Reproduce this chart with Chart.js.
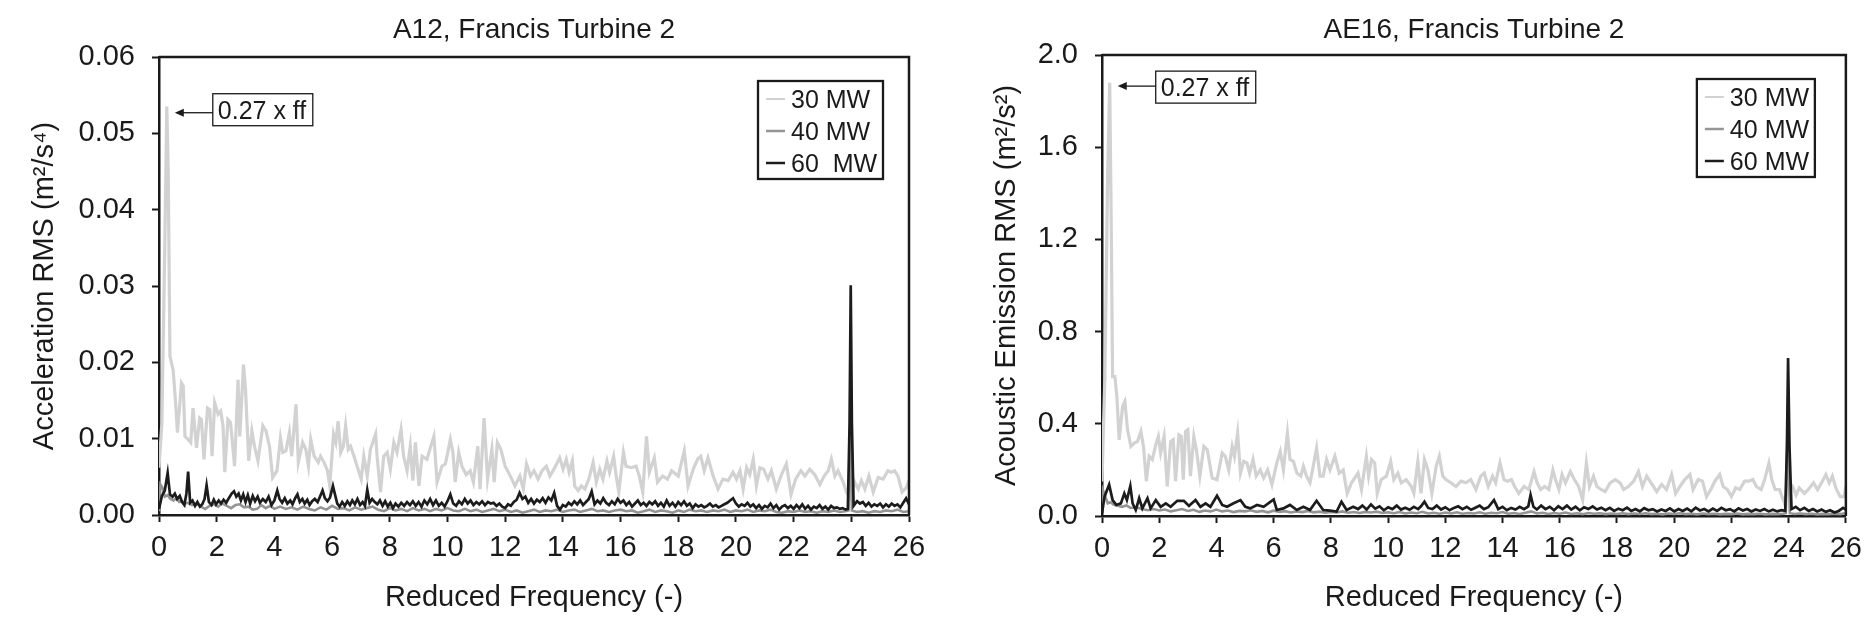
<!DOCTYPE html>
<html>
<head>
<meta charset="utf-8">
<script src="https://cdn.jsdelivr.net/npm/chart.js@4.4.1/dist/chart.umd.min.js"></script>
<style>
  html, body { margin: 0; padding: 0; background: #fff; }
  #wrap { position: relative; width: 1871px; height: 622px; }
  canvas { position: absolute; top: 0; }
</style>
</head>
<body>
<div id="wrap">
  <canvas id="chartA12" width="935" height="622" style="left:0"></canvas>
  <canvas id="chartAE16" width="936" height="622" style="left:935px"></canvas>
</div>
<script>
// [reduced frequency, RMS]

// A12 accelerometer (m2/s4)
const a12_30MW = [[0,0.0062],[0.1,0.012],[0.2,0.035],[0.27,0.0535],[0.32,0.045],[0.38,0.0208],[0.49,0.019],[0.57,0.015],[0.64,0.0108],[0.78,0.0173],[0.84,0.0169],[0.9,0.0103],[1.01,0.0099],[1.1,0.0095],[1.18,0.014],[1.3,0.0088],[1.41,0.0127],[1.47,0.0125],[1.56,0.0073],[1.68,0.014],[1.76,0.0138],[1.84,0.0077],[1.93,0.0147],[2.05,0.0132],[2.14,0.0136],[2.22,0.0117],[2.28,0.0056],[2.39,0.0125],[2.48,0.0121],[2.62,0.0064],[2.74,0.0177],[2.8,0.0103],[2.93,0.0197],[3.0,0.0164],[3.11,0.0071],[3.22,0.011],[3.31,0.009],[3.43,0.0071],[3.6,0.0117],[3.71,0.011],[3.83,0.009],[3.94,0.0049],[4.09,0.0058],[4.21,0.0101],[4.29,0.0082],[4.4,0.0084],[4.52,0.0108],[4.6,0.0077],[4.75,0.0145],[4.83,0.0069],[4.98,0.0095],[5.09,0.0086],[5.18,0.0064],[5.26,0.0099],[5.38,0.0077],[5.52,0.0069],[5.6,0.0077],[5.72,0.0069],[5.84,0.0058],[5.92,0.0038],[6.05,0.0106],[6.13,0.0095],[6.21,0.0123],[6.3,0.0082],[6.39,0.009],[6.47,0.0117],[6.56,0.0086],[6.64,0.009],[6.76,0.0077],[6.9,0.006],[7.01,0.0047],[7.1,0.0077],[7.22,0.0051],[7.33,0.0086],[7.51,0.0106],[7.56,0.0077],[7.68,0.003],[7.79,0.0077],[7.91,0.0082],[8.02,0.006],[8.14,0.0095],[8.25,0.0082],[8.39,0.0112],[8.48,0.0077],[8.6,0.0058],[8.71,0.009],[8.8,0.0045],[8.89,0.0095],[9.01,0.0038],[9.12,0.0077],[9.29,0.0073],[9.39,0.0086],[9.53,0.0103],[9.64,0.0043],[9.81,0.0064],[9.93,0.0067],[10.1,0.0099],[10.19,0.0082],[10.27,0.0043],[10.39,0.0082],[10.5,0.0064],[10.65,0.0053],[10.79,0.0058],[10.9,0.0043],[11.05,0.009],[11.13,0.0034],[11.27,0.0127],[11.39,0.0047],[11.54,0.0086],[11.62,0.0043],[11.73,0.0095],[11.85,0.0086],[12.0,0.0064],[12.11,0.0056],[12.23,0.0047],[12.34,0.0038],[12.51,0.0051],[12.63,0.0034],[12.74,0.0067],[12.88,0.0051],[13.0,0.0058],[13.14,0.0047],[13.28,0.0058],[13.43,0.0064],[13.55,0.0051],[13.72,0.0062],[13.89,0.0075],[14.01,0.006],[14.12,0.0073],[14.22,0.0056],[14.33,0.0071],[14.41,0.0038],[14.53,0.0032],[14.64,0.0038],[14.76,0.0034],[14.9,0.0047],[15.05,0.0069],[15.16,0.0043],[15.28,0.006],[15.39,0.0047],[15.53,0.0071],[15.62,0.0056],[15.76,0.0077],[15.85,0.0051],[15.94,0.003],[16.1,0.0082],[16.19,0.0064],[16.36,0.0062],[16.54,0.0064],[16.65,0.0051],[16.77,0.003],[16.9,0.0103],[17.0,0.0056],[17.17,0.0075],[17.28,0.0043],[17.46,0.0051],[17.63,0.0047],[17.77,0.0058],[18.0,0.0051],[18.21,0.0084],[18.34,0.0038],[18.52,0.006],[18.67,0.0073],[18.78,0.0077],[18.9,0.0058],[19.03,0.0075],[19.21,0.0051],[19.38,0.0034],[19.55,0.0047],[19.73,0.0045],[19.9,0.0056],[20.02,0.0047],[20.14,0.0058],[20.25,0.0034],[20.37,0.0062],[20.48,0.0053],[20.6,0.0073],[20.71,0.0038],[20.83,0.0062],[20.96,0.006],[21.11,0.0047],[21.23,0.0058],[21.4,0.0034],[21.58,0.0053],[21.75,0.0067],[21.91,0.0027],[22.07,0.0047],[22.25,0.0058],[22.39,0.0051],[22.56,0.006],[22.73,0.0053],[22.91,0.004],[23.06,0.0051],[23.2,0.0058],[23.31,0.0073],[23.43,0.0051],[23.54,0.0058],[23.72,0.0043],[23.83,0.003],[23.95,0.0023],[24.12,0.0043],[24.24,0.0034],[24.35,0.0045],[24.47,0.0034],[24.61,0.0051],[24.76,0.003],[24.93,0.0049],[25.1,0.0047],[25.27,0.0058],[25.39,0.0056],[25.5,0.0058],[25.62,0.0051],[25.76,0.003],[25.91,0.0036],[26.0,0.0045]];

const a12_40MW = [[0,0.0005],[0.05,0.004],[0.12,0.0036],[0.2,0.0024],[0.3,0.0026],[0.4,0.0021],[0.5,0.0019],[0.6,0.0022],[0.7,0.0017],[0.8,0.0018],[0.9,0.0015],[1.0,0.0016],[1.15,0.0013],[1.3,0.0015],[1.45,0.0011],[1.6,0.0008],[1.75,0.0012],[1.9,0.0014],[2.05,0.0011],[2.2,0.0015],[2.35,0.0012],[2.5,0.0009],[2.65,0.0013],[2.8,0.0014],[2.95,0.001],[3.1,0.0011],[3.25,0.0007],[3.4,0.0008],[3.55,0.0013],[3.7,0.0009],[3.85,0.0012],[4.0,0.0008],[4.2,0.0011],[4.4,0.0008],[4.6,0.001],[4.8,0.0007],[5.0,0.0011],[5.2,0.0008],[5.4,0.0006],[5.6,0.001],[5.8,0.0007],[6.0,0.0012],[6.2,0.0008],[6.4,0.0009],[6.6,0.0006],[6.8,0.001],[7.0,0.0007],[7.2,0.0009],[7.4,0.0011],[7.6,0.0007],[7.8,0.0005],[8.0,0.0009],[8.2,0.0006],[8.4,0.0008],[8.6,0.0005],[8.8,0.0009],[9.0,0.0006],[9.2,0.0008],[9.4,0.0005],[9.6,0.0008],[9.8,0.0006],[10.0,0.0009],[10.2,0.0006],[10.4,0.0005],[10.6,0.0008],[10.8,0.0005],[11.0,0.0007],[11.2,0.0004],[11.4,0.0006],[11.6,0.0008],[11.8,0.0005],[12.0,0.0007],[12.2,0.0004],[12.4,0.0006],[12.6,0.0003],[12.8,0.0005],[13.0,0.0007],[13.2,0.0004],[13.4,0.0006],[13.6,0.0005],[13.8,0.0007],[14.0,0.0004],[14.2,0.0006],[14.4,0.0007],[14.6,0.0004],[14.8,0.0006],[15.0,0.0008],[15.2,0.0005],[15.4,0.0006],[15.6,0.0004],[15.8,0.0006],[16.0,0.0007],[16.2,0.0005],[16.4,0.0006],[16.6,0.0003],[16.8,0.0005],[17.0,0.0007],[17.2,0.0004],[17.4,0.0006],[17.6,0.0005],[17.8,0.0003],[18.0,0.0006],[18.2,0.0004],[18.4,0.0007],[18.6,0.0005],[18.8,0.0006],[19.0,0.0004],[19.2,0.0006],[19.4,0.0005],[19.6,0.0007],[19.8,0.0004],[20.0,0.0006],[20.2,0.0005],[20.4,0.0007],[20.6,0.0004],[20.8,0.0006],[21.0,0.0005],[21.2,0.0007],[21.4,0.0004],[21.6,0.0003],[21.8,0.0005],[22.0,0.0004],[22.2,0.0006],[22.4,0.0004],[22.6,0.0005],[22.8,0.0003],[23.0,0.0005],[23.2,0.0004],[23.4,0.0006],[23.6,0.0004],[23.8,0.0005],[23.9,0.0006],[23.96,0.012],[24.02,0.0006],[24.2,0.0004],[24.4,0.0005],[24.6,0.0003],[24.8,0.0005],[25.0,0.0004],[25.2,0.0006],[25.4,0.0005],[25.6,0.0007],[25.8,0.0004],[26.0,0.0005]];

const a12_60MW = [[0,0.0008],[0.1,0.0025],[0.2,0.0032],[0.3,0.0055],[0.38,0.0027],[0.47,0.0024],[0.55,0.0028],[0.63,0.0021],[0.72,0.0025],[0.8,0.0017],[0.88,0.0013],[0.95,0.0028],[1.01,0.0057],[1.08,0.0016],[1.16,0.0019],[1.25,0.0012],[1.33,0.0017],[1.42,0.0011],[1.5,0.0014],[1.58,0.0021],[1.65,0.0039],[1.73,0.0017],[1.82,0.0013],[1.9,0.002],[1.98,0.0014],[2.07,0.0019],[2.15,0.0015],[2.24,0.002],[2.33,0.0016],[2.42,0.0022],[2.52,0.0028],[2.6,0.0031],[2.68,0.0024],[2.76,0.0028],[2.84,0.0019],[2.92,0.0027],[3.0,0.0017],[3.08,0.0026],[3.16,0.0015],[3.25,0.0025],[3.33,0.0018],[3.42,0.0024],[3.5,0.0016],[3.6,0.0021],[3.7,0.0017],[3.8,0.0024],[3.9,0.0013],[4.0,0.0019],[4.1,0.0032],[4.18,0.0021],[4.27,0.0016],[4.36,0.0022],[4.45,0.0015],[4.55,0.0019],[4.63,0.0014],[4.72,0.0022],[4.8,0.0027],[4.88,0.0017],[4.97,0.0021],[5.05,0.0015],[5.14,0.002],[5.22,0.0013],[5.31,0.0018],[5.4,0.0021],[5.5,0.0017],[5.58,0.0024],[5.67,0.0032],[5.75,0.0022],[5.84,0.0018],[5.93,0.0023],[6.03,0.0038],[6.1,0.0027],[6.18,0.0015],[6.26,0.0011],[6.35,0.0017],[6.44,0.0012],[6.53,0.0018],[6.62,0.0013],[6.7,0.0019],[6.79,0.0014],[6.88,0.0021],[6.97,0.0013],[7.06,0.0017],[7.14,0.0012],[7.22,0.0033],[7.3,0.0016],[7.39,0.0021],[7.48,0.0017],[7.57,0.0014],[7.66,0.0019],[7.75,0.0012],[7.84,0.0018],[7.93,0.0011],[8.02,0.0016],[8.11,0.0009],[8.2,0.0015],[8.3,0.0011],[8.4,0.0016],[8.5,0.0012],[8.6,0.0017],[8.7,0.0013],[8.8,0.0018],[8.9,0.0012],[9.0,0.0017],[9.1,0.0011],[9.2,0.0019],[9.3,0.0014],[9.4,0.0021],[9.5,0.0013],[9.6,0.0019],[9.7,0.0012],[9.8,0.0016],[9.9,0.0011],[10.0,0.0018],[10.1,0.0027],[10.2,0.0015],[10.3,0.0012],[10.4,0.0018],[10.5,0.0014],[10.6,0.0021],[10.7,0.0015],[10.8,0.0019],[10.9,0.0013],[11.0,0.0017],[11.1,0.0014],[11.2,0.0018],[11.3,0.0013],[11.4,0.0017],[11.5,0.0015],[11.6,0.0016],[11.7,0.0012],[11.8,0.0015],[11.9,0.0011],[12.0,0.0009],[12.1,0.0014],[12.2,0.0012],[12.3,0.0017],[12.4,0.002],[12.5,0.0029],[12.6,0.0021],[12.7,0.0024],[12.8,0.0016],[12.9,0.0021],[13.0,0.0015],[13.1,0.002],[13.2,0.0017],[13.3,0.0022],[13.4,0.0016],[13.5,0.0023],[13.6,0.0019],[13.7,0.0029],[13.8,0.0012],[13.9,0.0007],[14.0,0.0013],[14.1,0.0011],[14.2,0.0016],[14.3,0.0013],[14.4,0.0018],[14.5,0.0014],[14.6,0.0019],[14.7,0.0013],[14.8,0.0017],[14.9,0.0021],[15.0,0.0031],[15.1,0.0014],[15.2,0.0019],[15.3,0.0015],[15.4,0.0022],[15.5,0.0016],[15.6,0.0013],[15.7,0.0018],[15.8,0.0014],[15.9,0.0021],[16.0,0.0016],[16.1,0.0019],[16.2,0.0013],[16.3,0.0017],[16.4,0.0011],[16.5,0.0015],[16.6,0.0019],[16.7,0.0013],[16.8,0.0016],[16.9,0.0012],[17.0,0.0017],[17.1,0.0014],[17.2,0.0018],[17.3,0.0012],[17.4,0.0016],[17.5,0.0011],[17.6,0.0019],[17.7,0.0012],[17.8,0.0016],[17.9,0.0011],[18.0,0.0017],[18.1,0.0013],[18.2,0.0018],[18.3,0.0012],[18.4,0.0015],[18.5,0.0009],[18.6,0.0014],[18.7,0.0011],[18.8,0.0013],[18.9,0.001],[19.0,0.0012],[19.1,0.0015],[19.2,0.0011],[19.3,0.0013],[19.4,0.001],[19.5,0.0012],[19.6,0.0014],[19.7,0.0016],[19.8,0.0019],[19.9,0.0022],[20.0,0.0015],[20.1,0.0011],[20.2,0.0014],[20.3,0.0012],[20.4,0.0016],[20.5,0.0011],[20.6,0.0014],[20.7,0.0009],[20.8,0.0013],[20.9,0.0008],[21.0,0.0012],[21.1,0.001],[21.2,0.0015],[21.3,0.0009],[21.4,0.0013],[21.5,0.0007],[21.6,0.0011],[21.7,0.0013],[21.8,0.0009],[21.9,0.0012],[22.0,0.0008],[22.1,0.0013],[22.2,0.0009],[22.3,0.0014],[22.4,0.0008],[22.5,0.0012],[22.6,0.0007],[22.7,0.0011],[22.8,0.0009],[22.9,0.0013],[23.0,0.0008],[23.1,0.0011],[23.2,0.0007],[23.3,0.0012],[23.4,0.0009],[23.5,0.001],[23.6,0.0008],[23.7,0.0009],[23.8,0.0007],[23.88,0.0008],[23.94,0.012],[23.98,0.0301],[24.02,0.012],[24.08,0.0012],[24.2,0.0018],[24.3,0.0015],[24.4,0.0017],[24.5,0.0012],[24.6,0.0016],[24.7,0.0011],[24.8,0.0014],[24.9,0.0012],[25.0,0.0015],[25.1,0.001],[25.2,0.0014],[25.3,0.0011],[25.4,0.0015],[25.5,0.0012],[25.6,0.0014],[25.7,0.001],[25.8,0.0016],[25.9,0.0022],[26.0,0.0014]];

// AE16 acoustic emission sensor (m2/s2)
const ae16_30MW = [[0,0.15],[0.1,0.6],[0.2,1.5],[0.27,1.88],[0.32,1.3],[0.37,0.605],[0.45,0.605],[0.52,0.518],[0.6,0.33],[0.72,0.475],[0.8,0.497],[0.89,0.376],[1.01,0.302],[1.13,0.316],[1.24,0.323],[1.36,0.367],[1.45,0.302],[1.55,0.151],[1.65,0.259],[1.76,0.245],[1.88,0.309],[1.97,0.345],[2.05,0.273],[2.17,0.345],[2.28,0.128],[2.4,0.323],[2.49,0.331],[2.57,0.151],[2.69,0.352],[2.77,0.345],[2.84,0.158],[2.92,0.367],[3.0,0.374],[3.09,0.173],[3.21,0.345],[3.3,0.287],[3.42,0.173],[3.56,0.302],[3.68,0.287],[3.85,0.165],[4.02,0.158],[4.2,0.273],[4.31,0.259],[4.43,0.2],[4.55,0.302],[4.63,0.259],[4.74,0.36],[4.84,0.186],[4.95,0.237],[5.07,0.23],[5.16,0.186],[5.28,0.245],[5.39,0.173],[5.53,0.2],[5.65,0.165],[5.79,0.2],[5.94,0.136],[6.11,0.23],[6.23,0.28],[6.34,0.2],[6.48,0.36],[6.57,0.245],[6.69,0.237],[6.81,0.186],[6.95,0.173],[7.04,0.216],[7.15,0.173],[7.27,0.144],[7.36,0.2],[7.5,0.295],[7.62,0.173],[7.73,0.173],[7.85,0.245],[7.97,0.2],[8.14,0.259],[8.29,0.186],[8.43,0.2],[8.57,0.098],[8.72,0.144],[8.95,0.186],[9.07,0.115],[9.24,0.259],[9.32,0.173],[9.42,0.245],[9.53,0.23],[9.62,0.098],[9.76,0.158],[9.94,0.173],[10.09,0.237],[10.2,0.158],[10.34,0.186],[10.46,0.144],[10.63,0.158],[10.81,0.128],[10.9,0.098],[11.04,0.237],[11.15,0.098],[11.27,0.245],[11.39,0.2],[11.53,0.098],[11.68,0.216],[11.79,0.259],[11.91,0.173],[12.02,0.158],[12.2,0.144],[12.37,0.128],[12.55,0.151],[12.72,0.144],[12.89,0.158],[13.07,0.115],[13.24,0.173],[13.36,0.186],[13.5,0.128],[13.65,0.173],[13.76,0.144],[13.91,0.23],[14.05,0.158],[14.17,0.151],[14.31,0.158],[14.42,0.128],[14.57,0.098],[14.75,0.128],[14.92,0.115],[15.1,0.193],[15.21,0.144],[15.33,0.115],[15.47,0.128],[15.62,0.115],[15.76,0.2],[15.85,0.158],[15.97,0.115],[16.08,0.18],[16.2,0.144],[16.37,0.193],[16.51,0.158],[16.66,0.128],[16.8,0.07],[16.93,0.23],[17.04,0.128],[17.18,0.173],[17.3,0.128],[17.44,0.115],[17.59,0.106],[17.76,0.144],[17.94,0.158],[18.11,0.144],[18.23,0.115],[18.4,0.128],[18.58,0.151],[18.75,0.193],[18.89,0.128],[19.04,0.173],[19.19,0.144],[19.39,0.106],[19.56,0.137],[19.73,0.115],[19.91,0.18],[20.05,0.098],[20.2,0.128],[20.37,0.158],[20.55,0.18],[20.66,0.115],[20.84,0.158],[20.99,0.151],[21.13,0.084],[21.28,0.115],[21.42,0.151],[21.59,0.18],[21.71,0.128],[21.86,0.115],[22.0,0.084],[22.15,0.122],[22.29,0.115],[22.46,0.151],[22.6,0.151],[22.75,0.158],[22.87,0.128],[23.04,0.115],[23.16,0.158],[23.31,0.23],[23.41,0.158],[23.53,0.115],[23.68,0.115],[23.85,0.055],[24.02,0.144],[24.14,0.128],[24.26,0.091],[24.37,0.122],[24.55,0.098],[24.69,0.115],[24.87,0.144],[25.01,0.115],[25.18,0.151],[25.3,0.18],[25.42,0.144],[25.53,0.173],[25.65,0.122],[25.8,0.084],[25.94,0.084],[26.0,0.13]];

const ae16_40MW = [[0,0.02],[0.04,0.11],[0.1,0.09],[0.2,0.055],[0.3,0.06],[0.4,0.05],[0.55,0.045],[0.7,0.04],[0.85,0.046],[1.0,0.035],[1.2,0.038],[1.4,0.03],[1.6,0.025],[1.8,0.03],[2.0,0.024],[2.2,0.028],[2.4,0.02],[2.6,0.025],[2.8,0.03],[3.0,0.022],[3.2,0.027],[3.4,0.018],[3.6,0.024],[3.8,0.02],[4.0,0.028],[4.2,0.02],[4.4,0.024],[4.6,0.017],[4.8,0.022],[5.0,0.02],[5.2,0.025],[5.4,0.018],[5.6,0.022],[5.8,0.016],[6.0,0.023],[6.2,0.018],[6.4,0.021],[6.6,0.015],[6.8,0.02],[7.0,0.017],[7.2,0.022],[7.4,0.016],[7.6,0.019],[7.8,0.014],[8.0,0.018],[8.2,0.015],[8.4,0.02],[8.6,0.014],[8.8,0.017],[9.0,0.013],[9.2,0.018],[9.4,0.015],[9.6,0.019],[9.8,0.013],[10.0,0.016],[10.2,0.012],[10.4,0.017],[10.6,0.011],[10.8,0.015],[11.0,0.012],[11.2,0.018],[11.4,0.011],[11.6,0.014],[11.8,0.01],[12.0,0.015],[12.2,0.011],[12.4,0.016],[12.6,0.01],[12.8,0.013],[13.0,0.011],[13.2,0.016],[13.4,0.01],[13.6,0.014],[13.8,0.012],[14.0,0.017],[14.2,0.01],[14.4,0.013],[14.6,0.009],[14.8,0.014],[15.0,0.02],[15.2,0.011],[15.4,0.014],[15.6,0.009],[15.8,0.013],[16.0,0.01],[16.2,0.015],[16.4,0.009],[16.6,0.012],[16.8,0.008],[17.0,0.013],[17.2,0.01],[17.4,0.012],[17.6,0.008],[17.8,0.011],[18.0,0.009],[18.2,0.012],[18.4,0.008],[18.6,0.011],[18.8,0.009],[19.0,0.012],[19.2,0.008],[19.4,0.01],[19.6,0.007],[19.8,0.011],[20.0,0.009],[20.2,0.012],[20.4,0.008],[20.6,0.01],[20.8,0.007],[21.0,0.011],[21.2,0.008],[21.4,0.01],[21.6,0.007],[21.8,0.009],[22.0,0.008],[22.2,0.011],[22.4,0.007],[22.6,0.009],[22.8,0.008],[23.0,0.01],[23.2,0.007],[23.4,0.009],[23.6,0.008],[23.8,0.01],[23.9,0.012],[23.97,0.45],[24.04,0.012],[24.2,0.009],[24.4,0.011],[24.6,0.008],[24.8,0.01],[25.0,0.007],[25.2,0.009],[25.4,0.008],[25.6,0.01],[25.8,0.008],[26.0,0.012]];

const ae16_60MW = [[0,0.012],[0.09,0.085],[0.25,0.136],[0.37,0.069],[0.5,0.048],[0.66,0.055],[0.78,0.098],[0.87,0.069],[0.99,0.13],[1.07,0.055],[1.18,0.026],[1.3,0.077],[1.41,0.033],[1.59,0.077],[1.7,0.033],[1.88,0.069],[2.05,0.04],[2.23,0.055],[2.4,0.04],[2.63,0.066],[2.86,0.066],[3.04,0.044],[3.27,0.069],[3.44,0.04],[3.62,0.055],[3.79,0.04],[4.02,0.088],[4.2,0.048],[4.37,0.04],[4.6,0.055],[4.84,0.069],[5.01,0.04],[5.18,0.033],[5.42,0.048],[5.65,0.04],[6.0,0.072],[6.11,0.026],[6.34,0.033],[6.57,0.048],[6.81,0.026],[7.04,0.04],[7.27,0.026],[7.5,0.066],[7.73,0.026],[7.97,0.023],[8.2,0.019],[8.37,0.062],[8.55,0.026],[8.78,0.04],[8.95,0.03],[9.1,0.045],[9.25,0.028],[9.4,0.05],[9.55,0.032],[9.7,0.042],[9.85,0.025],[10.0,0.038],[10.15,0.03],[10.3,0.045],[10.45,0.028],[10.6,0.036],[10.75,0.027],[10.9,0.04],[11.05,0.03],[11.15,0.042],[11.27,0.062],[11.4,0.035],[11.55,0.03],[11.7,0.045],[11.85,0.028],[12.0,0.038],[12.15,0.025],[12.3,0.035],[12.45,0.042],[12.6,0.03],[12.75,0.04],[12.9,0.027],[13.05,0.036],[13.2,0.045],[13.35,0.03],[13.5,0.038],[13.7,0.069],[13.85,0.03],[14.0,0.04],[14.15,0.025],[14.3,0.035],[14.45,0.028],[14.6,0.04],[14.75,0.03],[14.9,0.042],[14.98,0.091],[15.08,0.04],[15.2,0.028],[15.35,0.045],[15.5,0.03],[15.65,0.04],[15.8,0.025],[15.95,0.042],[16.1,0.03],[16.25,0.045],[16.4,0.028],[16.55,0.04],[16.7,0.025],[16.85,0.038],[17.0,0.03],[17.15,0.042],[17.3,0.028],[17.45,0.036],[17.6,0.025],[17.75,0.035],[17.9,0.022],[18.05,0.032],[18.2,0.025],[18.35,0.036],[18.5,0.022],[18.65,0.03],[18.8,0.02],[18.95,0.034],[19.1,0.025],[19.25,0.03],[19.4,0.02],[19.55,0.028],[19.7,0.022],[19.85,0.033],[20.0,0.02],[20.15,0.03],[20.3,0.022],[20.45,0.032],[20.6,0.02],[20.75,0.036],[20.9,0.024],[21.05,0.03],[21.2,0.02],[21.35,0.032],[21.5,0.022],[21.65,0.035],[21.8,0.025],[21.95,0.03],[22.1,0.02],[22.25,0.033],[22.4,0.024],[22.55,0.03],[22.7,0.02],[22.85,0.028],[23.0,0.022],[23.15,0.03],[23.3,0.02],[23.45,0.027],[23.6,0.02],[23.75,0.025],[23.88,0.022],[23.94,0.3],[23.98,0.685],[24.03,0.3],[24.1,0.03],[24.25,0.04],[24.4,0.025],[24.55,0.035],[24.7,0.022],[24.85,0.03],[25.0,0.02],[25.15,0.028],[25.3,0.018],[25.45,0.025],[25.6,0.015],[25.75,0.022],[25.9,0.035],[26.0,0.028]];

const labelsA12 = ["30 MW", "40 MW", "60  MW"];
const labelsAE16 = ["30 MW", "40 MW", "60 MW"];

const FONT = "'Liberation Sans', Arial, Helvetica, sans-serif";
const INK = "#1a1a1a";
const seriesColors = ["#d2d2d2", "#959595", "#1c1c1c"];
const seriesWidths = [3.2, 2.6, 2.7];
const legendWidths = [2, 2.5, 2.5];

function toPoints(pairs) {
    return pairs.map(p => ({ x: p[0], y: p[1] }));
}

// frame, title, peak note and boxed legend
const figurePlugin = {
    id: "figureDecor",
    afterDatasetsDraw(chart, args, opts) {
        const ctx = chart.ctx;
        const a = chart.chartArea;
        ctx.save();

        ctx.strokeStyle = INK;
        ctx.lineWidth = 2.5;
        ctx.beginPath();
        ctx.moveTo(a.left, a.top);
        ctx.lineTo(a.right, a.top);
        ctx.lineTo(a.right, a.bottom);
        ctx.stroke();

        ctx.fillStyle = INK;
        ctx.font = "28px " + FONT;
        ctx.textAlign = "center";
        ctx.textBaseline = "alphabetic";
        ctx.fillText(opts.title, (a.left + a.right) / 2, 38);

        // "0.27 x ff" note with arrow to the peak
        const n = opts.note;
        const tipX = chart.scales.x.getPixelForValue(n.x) + 8;
        const tipY = chart.scales.y.getPixelForValue(n.y);
        const boxL = tipX + 38;
        const boxT = tipY - n.up;
        ctx.lineWidth = 1.3;
        ctx.strokeRect(boxL, boxT, 100, 32);
        ctx.beginPath();
        ctx.moveTo(boxL, tipY);
        ctx.lineTo(tipX + 8, tipY);
        ctx.stroke();
        ctx.beginPath();
        ctx.moveTo(tipX, tipY);
        ctx.lineTo(tipX + 9, tipY - 4);
        ctx.lineTo(tipX + 9, tipY + 4);
        ctx.closePath();
        ctx.fill();
        ctx.font = "25px " + FONT;
        ctx.textAlign = "left";
        ctx.fillText("0.27 x ff", boxL + 5, boxT + 25);

        // legend box
        const lg = opts.legend;
        const lx = a.right - lg.right - lg.w;
        const ly = a.top + 24;
        ctx.lineWidth = 2.3;
        ctx.strokeRect(lx, ly, lg.w, 98);
        chart.data.datasets.forEach((ds, i) => {
            const ry = ly + 18 + i * 32;
            ctx.strokeStyle = ds.borderColor;
            ctx.lineWidth = legendWidths[i];
            ctx.beginPath();
            ctx.moveTo(lx + 8, ry);
            ctx.lineTo(lx + 27, ry);
            ctx.stroke();
            ctx.fillText(ds.label, lx + 33, ry + 9);
        });
        ctx.restore();
    }
};

function makeChart(id, series, labels, p) {
    const datasets = series.map((s, i) => ({
        label: labels[i],
        data: toPoints(s),
        borderColor: seriesColors[i],
        borderWidth: seriesWidths[i],
        pointRadius: 0,
        tension: 0,
        order: 3 - i
    }));
    return new Chart(document.getElementById(id), {
        type: "line",
        data: { datasets: datasets },
        options: {
            responsive: false,
            animation: false,
            layout: { padding: { top: p.top, right: p.right, left: 0, bottom: 0 } },
            plugins: {
                legend: { display: false },
                tooltip: { enabled: false },
                figureDecor: p.decor
            },
            scales: {
                x: {
                    type: "linear",
                    min: 0, max: 26,
                    afterFit: s => { s.height = p.xHeight; },
                    ticks: { stepSize: 2, color: INK, padding: 9, font: { family: FONT, size: 29 } },
                    grid: { drawOnChartArea: false, tickLength: 7, tickWidth: 2, tickColor: INK },
                    border: { color: INK, width: 2.5 },
                    title: { display: true, text: "Reduced Frequency (-)", color: INK,
                             font: { family: FONT, size: 29, lineHeight: 1.2 }, padding: { top: 0, bottom: 7 } }
                },
                y: {
                    min: 0, max: p.yMax,
                    afterFit: s => { s.width = p.yWidth; },
                    ticks: { stepSize: p.yStep, color: INK, padding: 17, font: { family: FONT, size: 29 },
                             callback: v => v.toFixed(p.yDigits) },
                    grid: { drawOnChartArea: false, tickLength: 7, tickWidth: 2, tickColor: INK },
                    border: { color: INK, width: 2.5 },
                    title: { display: true, text: p.yTitle, color: INK,
                             font: { family: FONT, size: 29, lineHeight: 1.2 }, padding: { top: p.yTitlePad, bottom: 0 } }
                }
            }
        },
        plugins: [figurePlugin]
    });
}

makeChart("chartA12", [a12_30MW, a12_40MW, a12_60MW], labelsA12, {
    top: 57, right: 26, xHeight: 107, yWidth: 159, yTitlePad: 28,
    yMax: 0.06, yStep: 0.01, yDigits: 2,
    yTitle: "Acceleration RMS (m²/s⁴)",
    decor: { title: "A12, Francis Turbine 2", note: { x: 0.27, y: 0.0527, up: 19 }, legend: { right: 26, w: 125 } }
});

makeChart("chartAE16", [ae16_30MW, ae16_40MW, ae16_60MW], labelsAE16, {
    top: 55, right: 21, xHeight: 106, yWidth: 167, yTitlePad: 55,
    yMax: 2.0, yStep: 0.4, yDigits: 1,
    yTitle: "Acoustic Emission RMS (m²/s²)",
    decor: { title: "AE16, Francis Turbine 2", note: { x: 0.27, y: 1.865, up: 15 }, legend: { right: 31, w: 118 } }
});
</script>
</body>
</html>
